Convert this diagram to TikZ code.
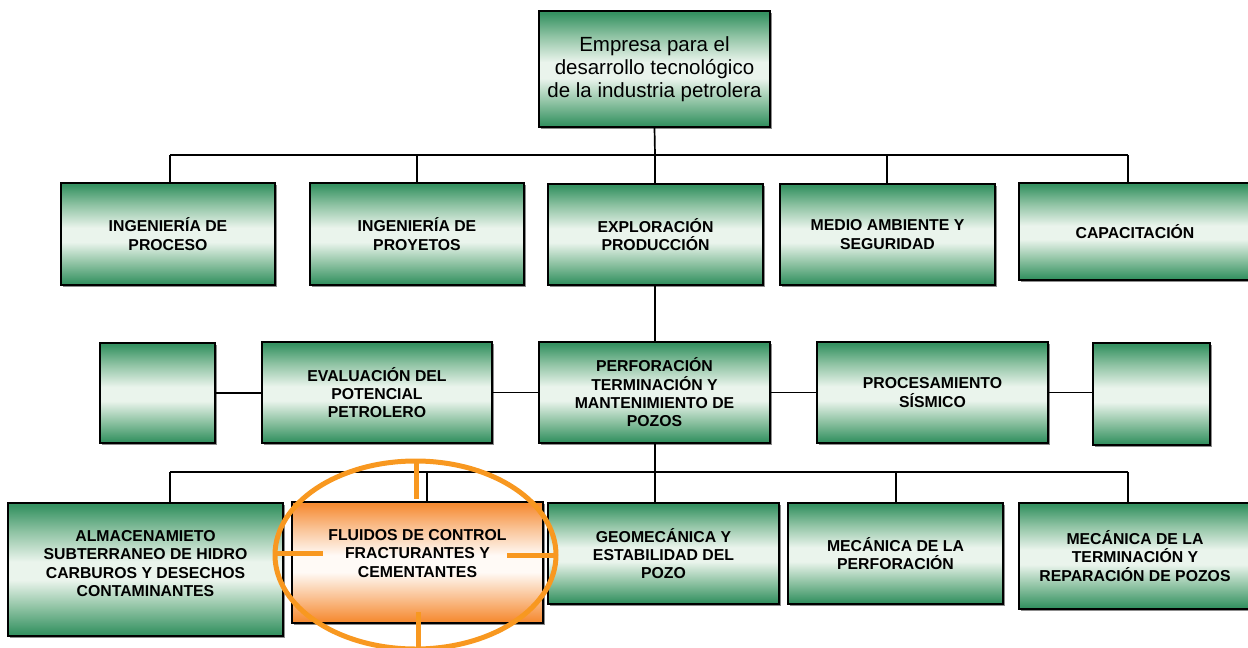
\documentclass[tikz,border=0pt]{standalone}
\usepackage{fontspec}
\setmainfont{Liberation Sans}
\usetikzlibrary{shadows,shapes.geometric}

\definecolor{gdark}{RGB}{54,146,98}
\definecolor{gmid}{RGB}{145,196,165}
\definecolor{glight}{RGB}{234,244,236}
\definecolor{odark}{RGB}{246,140,52}
\definecolor{omid}{RGB}{250,195,150}
\definecolor{olight}{RGB}{255,250,246}
\definecolor{ring}{RGB}{248,152,32}

% vertical bands: dark edges, pale middle
\pgfdeclareverticalshading{greenband}{100bp}{color(0bp)=(gdark); color(26bp)=(gdark); color(36bp)=(gmid); color(46bp)=(glight); color(53bp)=(glight); color(64bp)=(gmid); color(74bp)=(gdark); color(100bp)=(gdark)}
\pgfdeclareverticalshading{orangeband}{100bp}{color(0bp)=(odark); color(26bp)=(odark); color(36bp)=(omid); color(46bp)=(olight); color(53bp)=(olight); color(64bp)=(omid); color(74bp)=(odark); color(100bp)=(odark)}

\tikzset{
  box/.style={draw=black, line width=1.8pt, shading=greenband, rectangle,
    inner sep=2pt, align=center, font=\fontsize{15.8}{18.3}\selectfont\bfseries,
    drop shadow={shadow xshift=1.5pt, shadow yshift=-1.5pt, fill=black!45, opacity=1}},
  headbox/.style={box, font=\fontsize{20.5}{23}\selectfont\mdseries},
  hotbox/.style={box, shading=orangeband},
  link/.style={draw=black, line width=1.7pt},
  target/.style={draw=ring, line width=5pt}
}

\begin{document}
\begin{tikzpicture}[x=1pt, y=-1pt]
\useasboundingbox (0,0) rectangle (1248,648);
\clip (0,0) rectangle (1248,648);

% head
\node[headbox, minimum width=231, minimum height=116] (head) at (654.5,69)
  {Empresa para el\\desarrollo tecnológico\\de la industria petrolera};

% first level
\node[box, minimum width=214, minimum height=102] (ip) at (168,234) {INGENIERÍA DE\\PROCESO};
\node[box, minimum width=214, minimum height=102] (iy) at (417,234) {INGENIERÍA DE\\PROYETOS};
\node[box, minimum width=215, minimum height=101] (ep) at (655.5,234.5) {EXPLORACIÓN\\PRODUCCIÓN};
\node[box, minimum width=215, minimum height=101] (ma) at (887.5,234.5) {MEDIO AMBIENTE Y\\SEGURIDAD};
\node[box, minimum width=232, minimum height=97] (cap) at (1135,231.5) {CAPACITACIÓN};

% second level
\node[box, minimum width=115, minimum height=100] (sl) at (157.5,393) {};
\node[box, minimum width=230, minimum height=101] (ev) at (377,392.5) {EVALUACIÓN DEL\\POTENCIAL\\PETROLERO};
\node[box, minimum width=231, minimum height=101] (pf) at (654.5,392.5) {PERFORACIÓN\\TERMINACIÓN Y\\MANTENIMIENTO DE\\POZOS};
\node[box, minimum width=231, minimum height=101] (ps) at (932.5,392.5) {PROCESAMIENTO\\SÍSMICO};
\node[box, minimum width=117, minimum height=102] (sr) at (1151.5,394) {};

% third level
\node[box, minimum width=275, minimum height=133,
  label={[align=center, font=\fontsize{15.8}{18.3}\selectfont\bfseries, yshift=6pt]center:ALMACENAMIETO\\SUBTERRANEO DE HIDRO\\CARBUROS Y DESECHOS\\CONTAMINANTES}]
  (al) at (145.5,569.5) {};
\node[hotbox, minimum width=251, minimum height=121,
  label={[align=center, font=\fontsize{15.8}{18.3}\selectfont\bfseries, yshift=9pt]center:FLUIDOS DE CONTROL\\FRACTURANTES Y\\CEMENTANTES}]
  (fl) at (417.5,562.5) {};
\node[box, minimum width=231, minimum height=101] (ge) at (663.5,553.5) {GEOMECÁNICA Y\\ESTABILIDAD DEL\\POZO};
\node[box, minimum width=215, minimum height=101] (mp) at (895.5,553.5) {MECÁNICA DE LA\\PERFORACIÓN};
\node[box, minimum width=232, minimum height=106] (mt) at (1135,556) {MECÁNICA DE LA\\TERMINACIÓN Y\\REPARACIÓN DE POZOS};

% bus points
\coordinate (u0) at (655,155);
\coordinate (u1) at (170,155);
\coordinate (u2) at (417,155);
\coordinate (u3) at (887,155);
\coordinate (u4) at (1128,155);
\coordinate (d0) at (655,472);
\coordinate (d1) at (170,472);
\coordinate (d2) at (427,472);
\coordinate (d3) at (896,472);
\coordinate (d4) at (1128,472);

% upper connectors
\draw[link] (head.south) -- (u0);
\draw[link] (u1) -- (u4);
\draw[link] (u1) -- (u1 |- ip.north);
\draw[link] (u2) -- (u2 |- iy.north);
\draw[link] (u0) -- (u0 |- ep.north);
\draw[link] (u3) -- (u3 |- ma.north);
\draw[link] (u4) -- (u4 |- cap.north);

% middle connectors
\draw[link] (ep.south -| u0) -- (pf.north -| u0);
\draw[link] (sl.east) -- (sl.east -| ev.west);
\draw[link] (ev.east) -- (ev.east -| pf.west);
\draw[link] (pf.east) -- (pf.east -| ps.west);
\draw[link] (ps.east) -- (ps.east -| sr.west);

% lower connectors
\draw[link] (pf.south -| d0) -- (d0);
\draw[link] (d1) -- (d4);
\draw[link] (d1) -- (d1 |- al.north);
\draw[link] (d2) -- (d2 |- fl.north);
\draw[link] (d0) -- (d0 |- ge.north);
\draw[link] (d3) -- (d3 |- mp.north);
\draw[link] (d4) -- (d4 |- mt.north);

% highlight ring with cross marks
\node[target, ellipse, minimum width=281, minimum height=188, inner sep=0pt] (ring) at (415.5,555) {};
\draw[target] (416,461) -- (416,499);
\draw[target] (418,612) -- (418,650);
\draw[target] (275,553) -- (323,553);
\draw[target] (507,555) -- (556,555);
\end{tikzpicture}
\end{document}
